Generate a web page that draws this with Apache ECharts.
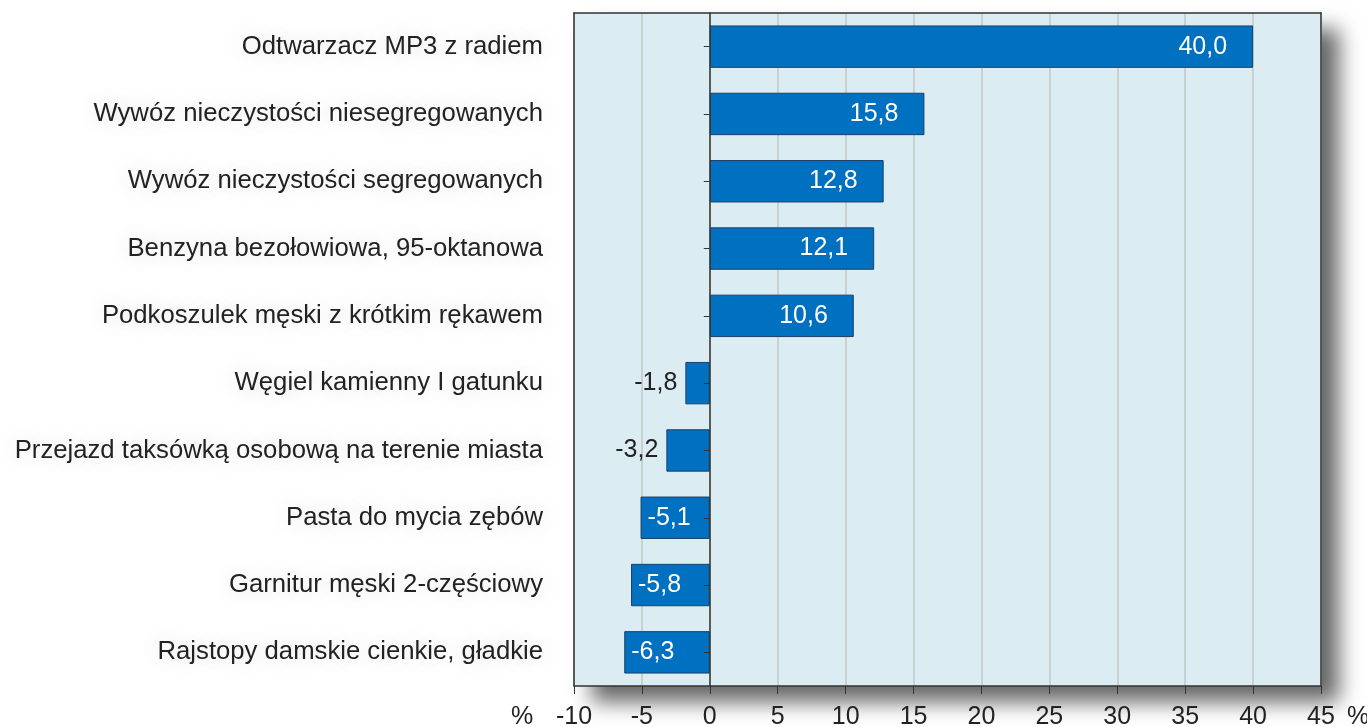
<!DOCTYPE html>
<html>
<head>
<meta charset="utf-8">
<script src="https://cdn.jsdelivr.net/npm/echarts@6/dist/echarts.min.js"></script>
<style>
  html, body { margin: 0; padding: 0; background: #ffffff; }
  #chart { width: 1367px; height: 727px; }
</style>
</head>
<body>
<div id="chart"></div>
<script>
// kategorie od góry do dołu
var categories = [
  'Odtwarzacz MP3 z radiem',
  'Wywóz nieczystości niesegregowanych',
  'Wywóz nieczystości segregowanych',
  'Benzyna bezołowiowa, 95-oktanowa',
  'Podkoszulek męski z krótkim rękawem',
  'Węgiel kamienny I gatunku',
  'Przejazd taksówką osobową na terenie miasta',
  'Pasta do mycia zębów',
  'Garnitur męski 2-częściowy',
  'Rajstopy damskie cienkie, gładkie'
];
var values = [40.0, 15.8, 12.8, 12.1, 10.6, -1.8, -3.2, -5.1, -5.8, -6.3];
var xMin = -10, xMax = 45, xStep = 5;

var font = 'Liberation Sans, Arial, sans-serif';
var frame = { show: true, onZero: false, lineStyle: { color: '#333333', width: 1.5 } };

// etykiety: białe w środku słupka, czarne na zewnątrz dla małych ujemnych
var barData = values.map(function (v) {
  var label;
  if (v > 0) {
    label = { position: 'insideRight', distance: 26, color: '#ffffff' };
  } else if (v > -5) {
    label = { position: 'left', distance: 8, color: '#222222' };
  } else {
    label = { position: 'insideLeft', distance: 7, color: '#ffffff' };
  }
  return { value: v, label: label };
});

var chart = echarts.init(document.getElementById('chart'));
chart.setOption({
  animation: false,
  backgroundColor: '#ffffff',
  grid: {
    left: 574, right: 46, top: 13, bottom: 41,
    outerBoundsMode: 'none',
    containLabel: false,
    show: true,
    backgroundColor: '#dbedf3',
    borderWidth: 0,
    shadowColor: 'rgba(0,0,0,0.6)',
    shadowBlur: 20,
    shadowOffsetX: 18,
    shadowOffsetY: 16
  },
  xAxis: [{
    type: 'value',
    min: xMin, max: xMax, interval: xStep,
    axisLine: frame,
    axisTick: { show: true, length: 8, lineStyle: { color: '#333333' } },
    axisLabel: {
      margin: 19, fontSize: 25, fontFamily: font, color: '#222222',
      formatter: function (v) { return String(v); }
    },
    splitLine: { show: true, lineStyle: { color: '#c4c4c4', width: 1.5 } }
  }, {
    type: 'value',
    position: 'top',
    min: xMin, max: xMax, interval: xStep,
    axisLine: frame,
    axisTick: { show: false },
    axisLabel: { show: false },
    splitLine: { show: false }
  }],
  yAxis: [{
    type: 'category',
    data: categories,
    inverse: true,
    axisLine: frame,
    axisTick: { show: false },
    axisLabel: {
      margin: 31, fontSize: 25.7, fontFamily: font, color: '#222222',
      textShadowColor: 'rgba(0,0,0,0.18)', textShadowBlur: 22
    }
  }, {
    type: 'category',
    data: categories,
    inverse: true,
    position: 'left',
    z: 10,
    axisLine: { show: true, onZero: true, lineStyle: { color: '#333333', width: 1.5 } },
    axisTick: { show: true, alignWithLabel: true, length: 6, lineStyle: { color: '#333333' } },
    axisLabel: { show: false }
  }, {
    type: 'category',
    data: categories,
    inverse: true,
    position: 'right',
    axisLine: frame,
    axisTick: { show: false },
    axisLabel: { show: false }
  }],
  series: [{
    type: 'bar',
    xAxisIndex: 0,
    yAxisIndex: 0,
    data: barData,
    barCategoryGap: '37%',
    itemStyle: { color: '#0070c0', borderColor: '#1d3f66', borderWidth: 1 },
    label: {
      show: true,
      fontSize: 25,
      fontFamily: font,
      formatter: function (p) { return p.value.toFixed(1).replace('.', ','); }
    }
  }],
  graphic: [
    { type: 'text', left: 511, top: 705, style: { text: '%', fontSize: 25, fontFamily: font, fill: '#222222' } },
    { type: 'text', left: 1347, top: 705, style: { text: '%', fontSize: 25, fontFamily: font, fill: '#222222' } }
  ]
});
</script>
</body>
</html>
